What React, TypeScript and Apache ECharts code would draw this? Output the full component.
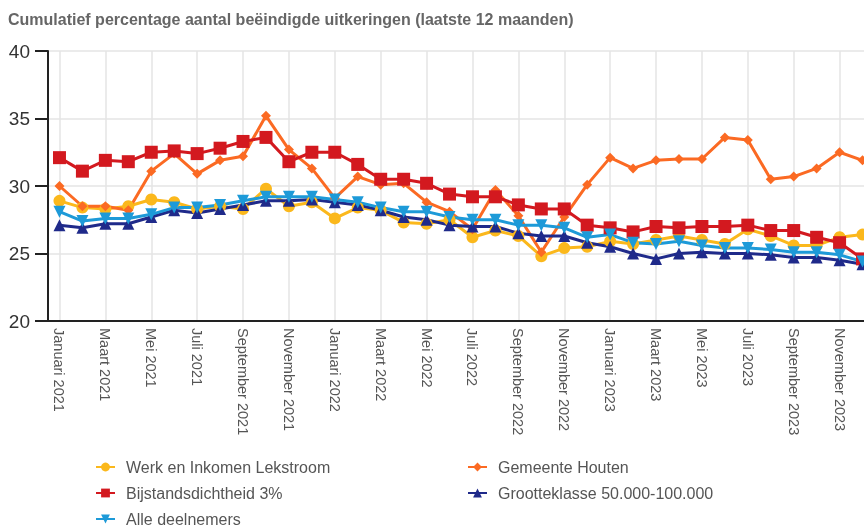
import React, { useEffect, useRef } from "react";
import * as echarts from "echarts";

const monthNames = ["Januari", "Februari", "Maart", "April", "Mei", "Juni", "Juli", "Augustus", "September", "Oktober", "November", "December"];
const years = ["2021", "2022", "2023"];
const categories: string[] = [];
years.forEach((y) => monthNames.forEach((m) => categories.push(m + " " + y)));

const werk = [28.9, 28.4, 28.3, 28.5, 29.0, 28.8, 28.3, 28.5, 28.3, 29.8, 28.5, 28.8, 27.6, 28.4, 28.2, 27.3, 27.2, 27.5, 26.2, 26.7, 26.3, 24.8, 25.4, 25.5, 25.9, 25.7, 26.0, 26.3, 26.0, 25.7, 26.8, 26.3, 25.6, 25.6, 26.2, 26.4];
const houten = [30.0, 28.5, 28.5, 28.2, 31.1, 32.4, 30.9, 31.9, 32.2, 35.2, 32.7, 31.3, 29.1, 30.7, 30.1, 30.2, 28.8, 28.1, 26.8, 29.7, 27.8, 25.1, 27.7, 30.1, 32.1, 31.3, 31.9, 32.0, 32.0, 33.6, 33.4, 30.5, 30.7, 31.3, 32.5, 31.9];
const bijstand = [32.1, 31.1, 31.9, 31.8, 32.5, 32.6, 32.4, 32.8, 33.3, 33.6, 31.8, 32.5, 32.5, 31.6, 30.5, 30.5, 30.2, 29.4, 29.2, 29.2, 28.6, 28.3, 28.3, 27.1, 26.9, 26.6, 27.0, 26.9, 27.0, 27.0, 27.1, 26.7, 26.7, 26.2, 25.8, 24.6];
const groot = [27.1, 26.9, 27.2, 27.2, 27.7, 28.2, 28.0, 28.3, 28.6, 28.9, 28.9, 29.0, 28.8, 28.6, 28.2, 27.7, 27.5, 27.1, 27.0, 27.0, 26.5, 26.3, 26.3, 25.8, 25.5, 25.0, 24.6, 25.0, 25.1, 25.0, 25.0, 24.9, 24.7, 24.7, 24.5, 24.2];
const alle = [28.1, 27.4, 27.6, 27.6, 27.9, 28.4, 28.4, 28.6, 28.9, 29.2, 29.2, 29.2, 29.0, 28.8, 28.4, 28.1, 28.1, 27.7, 27.5, 27.5, 27.1, 27.1, 26.9, 26.2, 26.4, 25.8, 25.7, 25.9, 25.6, 25.4, 25.4, 25.3, 25.1, 25.1, 24.9, 24.4];

const seriesNames = ["Werk en Inkomen Lekstroom", "Gemeente Houten", "Bijstandsdichtheid 3%", "Grootteklasse 50.000-100.000", "Alle deelnemers"];

const FONT = "'Liberation Sans', Arial, sans-serif";

export default function App() {
  const ref = useRef<HTMLDivElement>(null);
  useEffect(() => {
    if (!ref.current) return;
    const chart = echarts.init(ref.current, null, { renderer: "svg" });
    const mk = (name: string, data: number[], color: string, symbol: string, size: number) => ({
      name,
      type: "line",
      data,
      color,
      symbol,
      symbolSize: size,
      lineStyle: { width: 3, color },
      itemStyle: { color },
    });
    const legendCommon = {
      orient: "vertical",
      top: 459,
      padding: 0,
      itemGap: 10,
      itemWidth: 19,
      itemHeight: 11,
      textStyle: { fontFamily: FONT, fontSize: 16, color: "#555", padding: [0, 0, 0, 6] },
    };
    chart.setOption({
      animation: false,
      textStyle: { fontFamily: FONT },
      title: {
        text: "Cumulatief percentage aantal beëindigde uitkeringen (laatste 12 maanden)",
        left: 8,
        top: 11,
        padding: 0,
        textStyle: { fontFamily: FONT, fontSize: 16, fontWeight: "bold", color: "#666" },
      },
      legend: [
        { ...legendCommon, data: [seriesNames[0], seriesNames[2], seriesNames[4]], left: 95 },
        { ...legendCommon, data: [seriesNames[1], seriesNames[3]], left: 467 },
      ],
      grid: { left: 48, right: 0, top: 51, bottom: 239, containLabel: false },
      xAxis: {
        type: "category",
        data: categories,
        boundaryGap: true,
        axisLine: { lineStyle: { color: "#222", width: 2 } },
        axisTick: { show: false },
        axisLabel: { interval: 1, rotate: -90, fontSize: 14.5, color: "#555", margin: 7, fontFamily: FONT },
        splitLine: { show: true, interval: 1, alignWithLabel: true, lineStyle: { color: "#e4e4e4", width: 1.5 } },
      },
      yAxis: {
        type: "value",
        min: 20,
        max: 40,
        interval: 5,
        axisLine: { show: true, lineStyle: { color: "#222", width: 2 } },
        axisTick: { show: true, length: 13, lineStyle: { color: "#222", width: 2 } },
        axisLabel: { fontSize: 19, color: "#333", margin: 18, fontFamily: FONT },
        splitLine: { show: true, lineStyle: { color: "#e4e4e4", width: 1.5 } },
      },
      series: [
        mk(seriesNames[0], werk, "#fbb81c", "circle", 12),
        mk(seriesNames[1], houten, "#fb6a23", "diamond", 10),
        mk(seriesNames[2], bijstand, "#d3191f", "rect", 13),
        mk(seriesNames[3], groot, "#1f2a8a", "triangle", 12),
        mk(seriesNames[4], alle, "#1d9ad8", "path://M0,0 L10,0 L5,9 Z", 12),
      ],
    });
    return () => chart.dispose();
  }, []);
  return <div ref={ref} style={{ position: "fixed", left: 0, top: 0, width: 874, height: 560 }} />;
}
